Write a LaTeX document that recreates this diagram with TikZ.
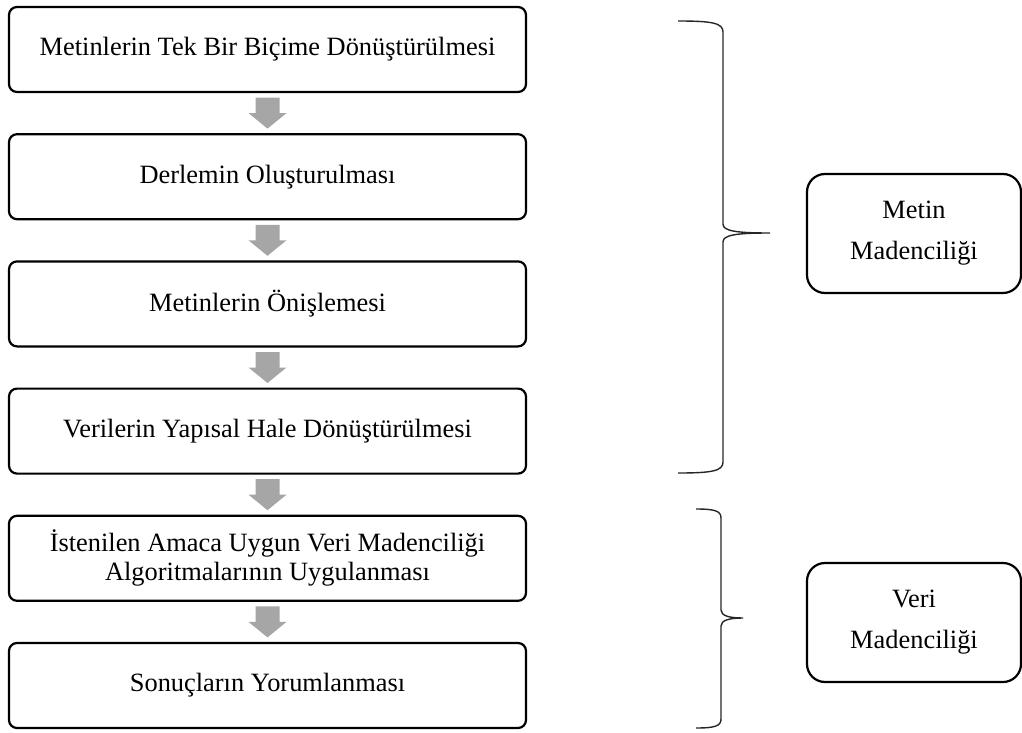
\documentclass[tikz,border=0pt]{standalone}
\usepackage{fontspec}
\setmainfont{Liberation Serif}
\usetikzlibrary{positioning,calc}
\tikzset{
	stepbox/.style={draw, line width=1.1pt, rounded corners=4pt, minimum width=258.5pt, minimum height=42.5pt, align=center, font=\fontsize{13.2}{14.5}\selectfont},
	sidebox/.style={draw, line width=1.1pt, rounded corners=9pt, minimum width=107pt, minimum height=59.5pt, align=center, font=\fontsize{13.2}{20.5}\selectfont},
	flowfill/.style={fill=black!35},
	braceline/.style={line width=0.7pt, black!85}
}
\newcommand{\flowarrow}[2]{\fill[flowfill] ($(#1.south)!0.5!(#2.north)$) +(-12,-15.5) -- +(12,-15.5) -- +(12,0) -- +(19,0) -- +(0,15.5) -- +(-19,0) -- +(-12,0) -- cycle;}

\begin{document}
\begin{tikzpicture}[x=0.5pt, y=-0.5pt, node distance=20pt]
	\useasboundingbox (0,0) rectangle (1022,733);
	\node[stepbox] (s1) at (267.5,49.5) {Metinlerin Tek Bir Biçime Dönüştürülmesi};
	\node[stepbox, below=of s1] (s2) {Derlemin Oluşturulması};
	\node[stepbox, below=of s2] (s3) {Metinlerin Önişlemesi};
	\node[stepbox, below=of s3] (s4) {Verilerin Yapısal Hale Dönüştürülmesi};
	\node[stepbox, below=of s4] (s5) {İstenilen Amaca Uygun Veri Madenciliği\\Algoritmalarının Uygulanması};
	\node[stepbox, below=of s5] (s6) {Sonuçların Yorumlanması};
	\flowarrow{s1}{s2}
	\flowarrow{s2}{s3}
	\flowarrow{s3}{s4}
	\flowarrow{s4}{s5}
	\flowarrow{s5}{s6}
	\node[sidebox] (metin) at (914,233.5) {Metin\\Madenciliği};
	\node[sidebox] (veri) at (914,622.5) {Veri\\Madenciliği};
	\coordinate (metintip) at (770,233);
	\coordinate (veritip) at (743,618);
	\draw[braceline] (678,21) .. controls (712,21) and (723,23) .. (723,32) -- (723,224)
		.. controls (723,231) and (736,233) .. (metintip)
		.. controls (736,233) and (723,235) .. (723,242) -- (723,462)
		.. controls (723,471) and (712,473) .. (678,473);
	\draw[braceline] (696,509) .. controls (715,509) and (721,511) .. (721,518) -- (721,610)
		.. controls (721,616) and (730,618) .. (veritip)
		.. controls (730,618) and (721,620) .. (721,626) -- (721,719)
		.. controls (721,726) and (715,728) .. (696,728);
\end{tikzpicture}
\end{document}
